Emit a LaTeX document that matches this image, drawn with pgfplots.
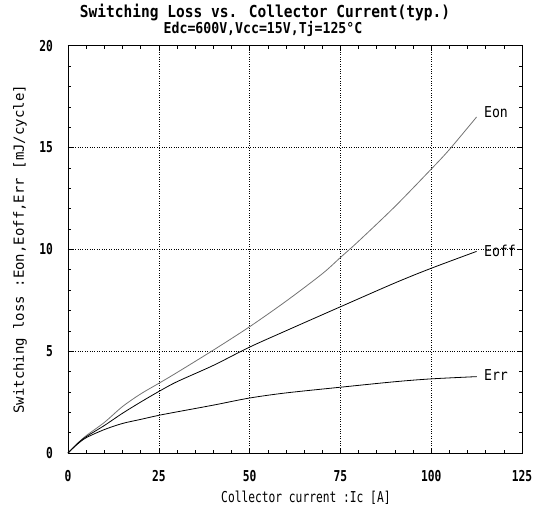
\documentclass[border=0pt]{standalone}
\usepackage{fontspec}
\usepackage{pgfplots}
\pgfplotsset{compat=1.18}
\setmainfont{DejaVu Sans Mono}
\newfontfamily\titlefont[FakeStretch=0.88]{DejaVu Sans Mono}
\newfontfamily\tickfont[FakeStretch=0.75]{DejaVu Sans Mono}

\begin{document}
\begin{tikzpicture}
\begin{axis}[
    name=ax,
    scale only axis,
    width=454pt, height=407.3pt,
    xmin=0, xmax=125, ymin=0, ymax=20,
    xtick={0,25,...,125}, ytick={0,5,...,20},
    minor x tick num=4, minor y tick num=4,
    major tick length=5pt, minor tick length=3pt,
    tick style={black, line width=0.5pt},
    tick align=inside,
    xtick pos=both, ytick pos=both,
    grid=major,
    major grid style={black, dotted, line width=0.6pt},
    axis line style={black, line width=0.7pt},
    /pgf/number format/assume math mode=true,
    ticklabel style={font=\tickfont\bfseries\fontsize{15}{18}\selectfont, inner sep=0pt},
    xticklabel style={anchor=center, yshift=-23pt},
    yticklabel style={anchor=east, xshift=-15pt},
    xlabel={Collector current :Ic [A]},
    every axis x label/.style={font=\tickfont\fontsize{15}{18}\selectfont, at={(axis description cs:0.524,-0.1105)}, anchor=center},
    ylabel={Switching loss :Eon,Eoff,Err [mJ/cycle]},
    every axis y label/.style={font=\fontsize{14}{16}\selectfont, at={(axis description cs:-0.1057,0.5)}, anchor=center, rotate=90},
    clip=false,
]
% Eon
\addplot[smooth, color=black!55, line width=0.8pt] coordinates {
(0,0)(2.5,0.45)(5,0.85)(10,1.5)(15,2.28)(20,2.9)(25,3.42)(30,3.95)(40,5.05)
(50,6.2)(60,7.45)(70,8.8)(75,9.6)(80,10.4)(90,12.1)(100,13.94)(105,14.9)(112.5,16.5)};
% Eoff
\addplot[smooth, color=black, line width=0.8pt] coordinates {
(0,0)(2.5,0.45)(5,0.8)(10,1.35)(15,1.95)(20,2.5)(25,3.02)(30,3.5)(40,4.3)
(50,5.2)(60,6.0)(75,7.18)(90,8.35)(100,9.07)(112.5,9.9)};
% Err
\addplot[smooth, color=black, line width=0.8pt] coordinates {
(0,0)(2.5,0.42)(5,0.75)(10,1.15)(15,1.45)(20,1.65)(25,1.85)(30,2.02)(40,2.35)
(50,2.7)(60,2.95)(75,3.23)(90,3.5)(100,3.64)(112.5,3.75)};
\node[anchor=west, inner sep=0pt, font=\titlefont\fontsize{15}{18}\selectfont] at (axis cs:114.5,16.75) {Eon};
\node[anchor=west, inner sep=0pt, font=\titlefont\fontsize{15}{18}\selectfont] at (axis cs:114.5,9.9) {Eoff};
\node[anchor=west, inner sep=0pt, font=\titlefont\fontsize{15}{18}\selectfont] at (axis cs:114.5,3.85) {Err};
\end{axis}
\node[font=\titlefont\bfseries\fontsize{16.5}{18}\selectfont, inner sep=0pt] at ([xshift=-30pt, yshift=33pt]ax.north) {Switching Loss vs. Collector Current(typ.)};
\node[font=\titlefont\bfseries\fontsize{15}{18}\selectfont, inner sep=0pt] at ([xshift=-32pt, yshift=17pt]ax.north) {Edc=600V,Vcc=15V,Tj=125°C};
\pgfresetboundingbox
\path ([xshift=-68pt, yshift=-60pt]ax.south west) rectangle ([xshift=23pt, yshift=45.7pt]ax.north east);
\end{tikzpicture}
\end{document}
